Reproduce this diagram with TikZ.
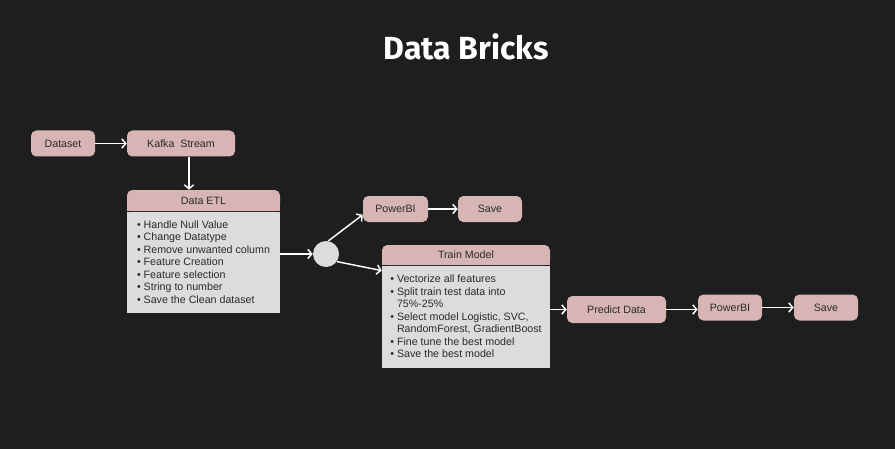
\documentclass[tikz,border=0pt]{standalone}
\usepackage{fontspec}
\setmainfont{Liberation Sans}
\newfontfamily\headfont{Fira Sans}
\usetikzlibrary{arrows.meta,backgrounds}
\definecolor{bg}{HTML}{1E1E1E}
\definecolor{boxpink}{HTML}{D8B5B5}
\definecolor{boxgray}{HTML}{DCDCDC}
\definecolor{ink}{HTML}{2A2A2A}
\newcommand{\bul}{\textbullet\ }
\newcommand{\cont}{\phantom{\textbullet\ }}

\begin{document}
\begin{tikzpicture}[x=0.75pt, y=-0.75pt,
  pill/.style={fill=boxpink, rounded corners=4pt, text=ink, font=\fontsize{8}{9.4}\selectfont, inner sep=0pt, minimum height=19.5pt},
  head/.style={pill, minimum height=15.5pt},
  body/.style={fill=boxgray, text=ink, font=\fontsize{8}{9.4}\selectfont, inner sep=0pt, align=left, anchor=north},
  flow/.style={-{Straight Barb[length=3pt,width=7pt]}, white, line width=1.1pt}]
\useasboundingbox (0,0) rectangle (895,449);
\begin{scope}[on background layer]
\fill[bg] (0,0) rectangle (895,449);
\end{scope}
\node[text=white, font=\headfont\bfseries\fontsize{24}{28}\selectfont] (title) at (466,47) {Data Bricks};
%input
\node[pill, minimum width=48pt] (dataset) at (63,143.5) {Dataset};
\node[pill, minimum width=81pt] (kafka) at (181,143.5) {Kafka\ \ Stream};
%data etl
\node[head, minimum width=114.75pt, minimum height=15.75pt] (etlhead) at (203.5,200.5) {Data ETL};
\node[body, minimum width=114.75pt, minimum height=75.75pt] (etlbody) at (etlhead.south) {\bul Handle Null Value\\ \bul Change Datatype\\ \bul Remove unwanted column\\ \bul Feature Creation\\ \bul Feature selection\\ \bul String to number\\ \bul Save the Clean dataset};
\node[circle, fill=boxgray, minimum size=19.5pt, inner sep=0pt] (split) at (326,254) {};
%report branch
\node[pill, minimum width=48.75pt] (pbi) at (395.5,209) {PowerBI};
\node[pill, minimum width=48pt] (save) at (490,209) {Save};
%model branch
\node[head, minimum width=126pt, minimum height=15pt] (trainhead) at (466,255) {Train Model};
\node[body, minimum width=126pt, minimum height=76.5pt] (trainbody) at (trainhead.south) {\bul Vectorize all features\\ \bul Split train test data into\\ \cont 75\%-25\%\\ \bul Select model Logistic, SVC,\\ \cont RandomForest, GradientBoost\\ \bul Fine tune the best model\\ \bul Save the best model};
\node[pill, minimum width=74.25pt, minimum height=20.25pt] (predict) at (616.5,309.5) {Predict Data};
\node[pill, minimum width=48pt] (pbi2) at (730,307.5) {PowerBI};
\node[pill, minimum width=48pt] (save2) at (826,307.5) {Save};
%square off the lower corners of the headers
\begin{scope}[on background layer]
\fill[boxpink] (etlhead.west) rectangle (etlhead.south east);
\fill[boxpink] (trainhead.west) rectangle (trainhead.south east);
\end{scope}
%arrows
\draw[flow] (dataset) -- (kafka);
\draw[flow] ([xshift=6pt]kafka.south) -- ([xshift=6pt]kafka.south |- etlhead.north);
\draw[flow] (etlbody.east |- split) -- (split);
\draw[flow] (split.80) -- (pbi.190);
\draw[flow] (pbi) -- (save);
\draw[flow] (split.-35) -- ([yshift=-4pt]trainbody.north west);
\draw[flow] (trainbody.east |- predict) -- (predict);
\draw[flow] (predict.east) -- (predict.east -| pbi2.west);
\draw[flow] (pbi2) -- (save2);
\end{tikzpicture}
\end{document}
